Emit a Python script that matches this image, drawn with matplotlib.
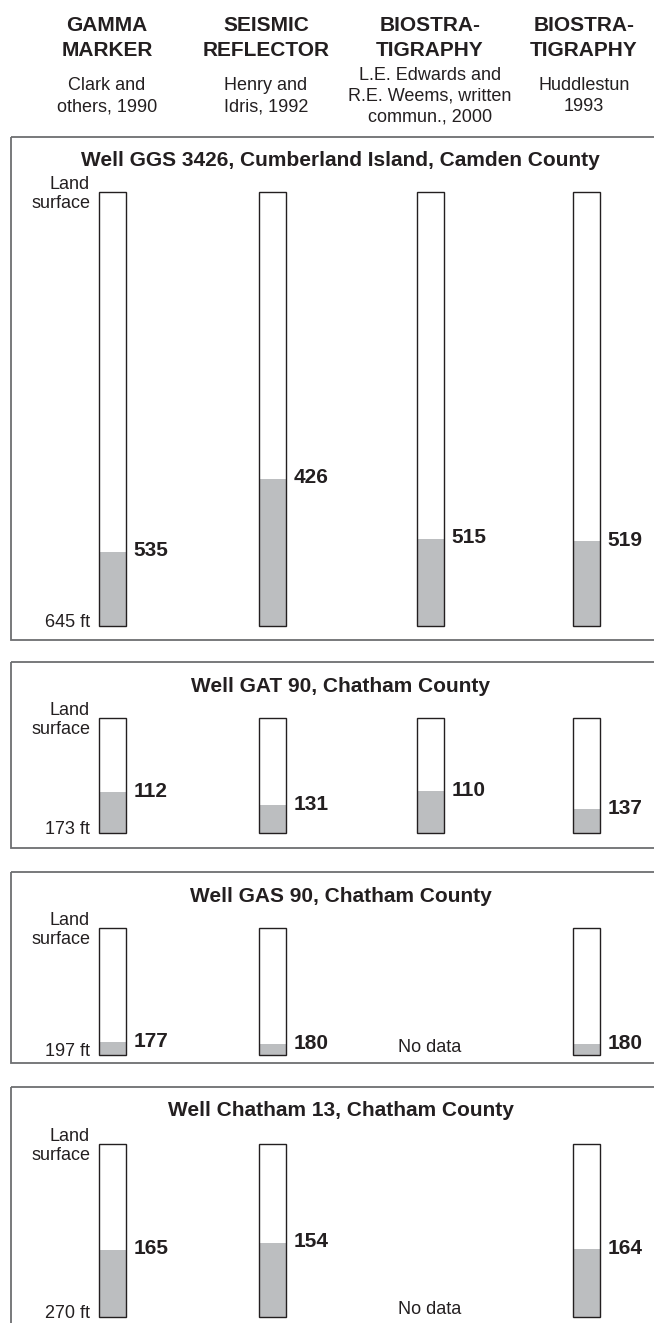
import matplotlib
matplotlib.use("Agg")
import matplotlib.pyplot as plt
from matplotlib.patches import Rectangle
from matplotlib.transforms import Affine2D

# ---------------------------------------------------------------- data
method_titles = ["GAMMA\nMARKER", "SEISMIC\nREFLECTOR", "BIOSTRA-\nTIGRAPHY", "BIOSTRA-\nTIGRAPHY"]
method_sources = ["Clark and\nothers, 1990",
                  "Henry and\nIdris, 1992",
                  "L.E. Edwards and\nR.E. Weems, written\ncommun., 2000",
                  "Huddlestun\n1993"]

well_names = ["Well GGS 3426, Cumberland Island, Camden County",
              "Well GAT 90, Chatham County",
              "Well GAS 90, Chatham County",
              "Well Chatham 13, Chatham County"]
total_depth_ft = [645, 173, 197, 270]

# depth (ft below land surface) of the top of the unit, by method
ggs3426_tops = [535, 426, 515, 519]
gat90_tops = [112, 131, 110, 137]
gas90_tops = [177, 180, None, 180]
chatham13_tops = [165, 154, None, 164]
well_tops = [ggs3426_tops, gat90_tops, gas90_tops, chatham13_tops]

# ---------------------------------------------------------------- layout (pixels from top-left)
W, H = 654, 1323
header_x = [107, 266, 430, 584]
column_x = [112, 272, 430, 586]
col_width = 27
panel_spans = [(137, 640), (662, 848), (872, 1063), (1087, 1400)]
well_spans = [(192, 626), (718, 833), (928, 1055), (1144, 1317)]
panel_left, panel_right = 11, 720

ink = "#231f20"
fill_gray = "#bcbec0"
frame_gray = "#6d6e71"

plt.rcParams["font.family"] = ["Liberation Sans", "DejaVu Sans"]

fig = plt.figure(figsize=(W / 100, H / 100), dpi=100)
px = Affine2D().scale(1 / W, -1 / H).translate(0, 1) + fig.transFigure

# ---------------------------------------------------------------- column headers
for x, title, src in zip(header_x, method_titles, method_sources):
    for i, line in enumerate(title.split("\n")):
        fig.text(x, 31 + 25 * i, line, transform=px, ha="center", va="baseline",
                 fontsize=15, fontweight="bold", color=ink)
    lines = src.split("\n")
    first = 100.5 - (len(lines) - 1) * 21 / 2
    for i, line in enumerate(lines):
        fig.text(x, first + 21 * i, line, transform=px, ha="center", va="baseline",
                 fontsize=13, color=ink)

# ---------------------------------------------------------------- well panels
for name, depth, tops, (ptop, pbot), (wtop, wbot) in zip(
        well_names, total_depth_ft, well_tops, panel_spans, well_spans):
    fig.add_artist(Rectangle((panel_left, ptop), panel_right - panel_left, pbot - ptop,
                             transform=px, facecolor="none", edgecolor=frame_gray,
                             linewidth=1.3))
    fig.text(340.5, ptop + 29.5, name, transform=px, ha="center", va="baseline",
             fontsize=15, fontweight="bold", color=ink)
    fig.text(90, wtop - 3, "Land", transform=px, ha="right", va="baseline",
             fontsize=13, color=ink)
    fig.text(90, wtop + 16, "surface", transform=px, ha="right", va="baseline",
             fontsize=13, color=ink)
    fig.text(90, wbot + 1, f"{depth} ft", transform=px, ha="right", va="baseline",
             fontsize=13, color=ink)

    ax = fig.add_axes([0, 1 - wbot / H, 1, (wbot - wtop) / H])
    ax.set_xlim(0, W)
    ax.set_ylim(depth, 0)
    ax.axis("off")

    for x, top in zip(column_x, tops):
        if top is None:
            ax.annotate("No data", xy=(x, depth), xytext=(0, 3.5),
                        textcoords="offset pixels", ha="center", va="baseline",
                        fontsize=13, color=ink, annotation_clip=False)
            continue
        ax.bar(x, depth, width=col_width, bottom=0, color="white", edgecolor="none")
        ax.bar(x, depth - top, width=col_width, bottom=top, color=fill_gray,
               edgecolor="none")
        ax.bar(x, depth, width=col_width, bottom=0, facecolor="none",
               edgecolor=ink, linewidth=1.0, clip_on=False)
        ax.annotate(str(top), xy=(x + col_width / 2, top), xytext=(8, -4.5),
                    textcoords="offset pixels", ha="left", va="baseline",
                    fontsize=15, fontweight="bold", color=ink, annotation_clip=False)

fig.savefig("out.png", dpi=100, facecolor="white")
